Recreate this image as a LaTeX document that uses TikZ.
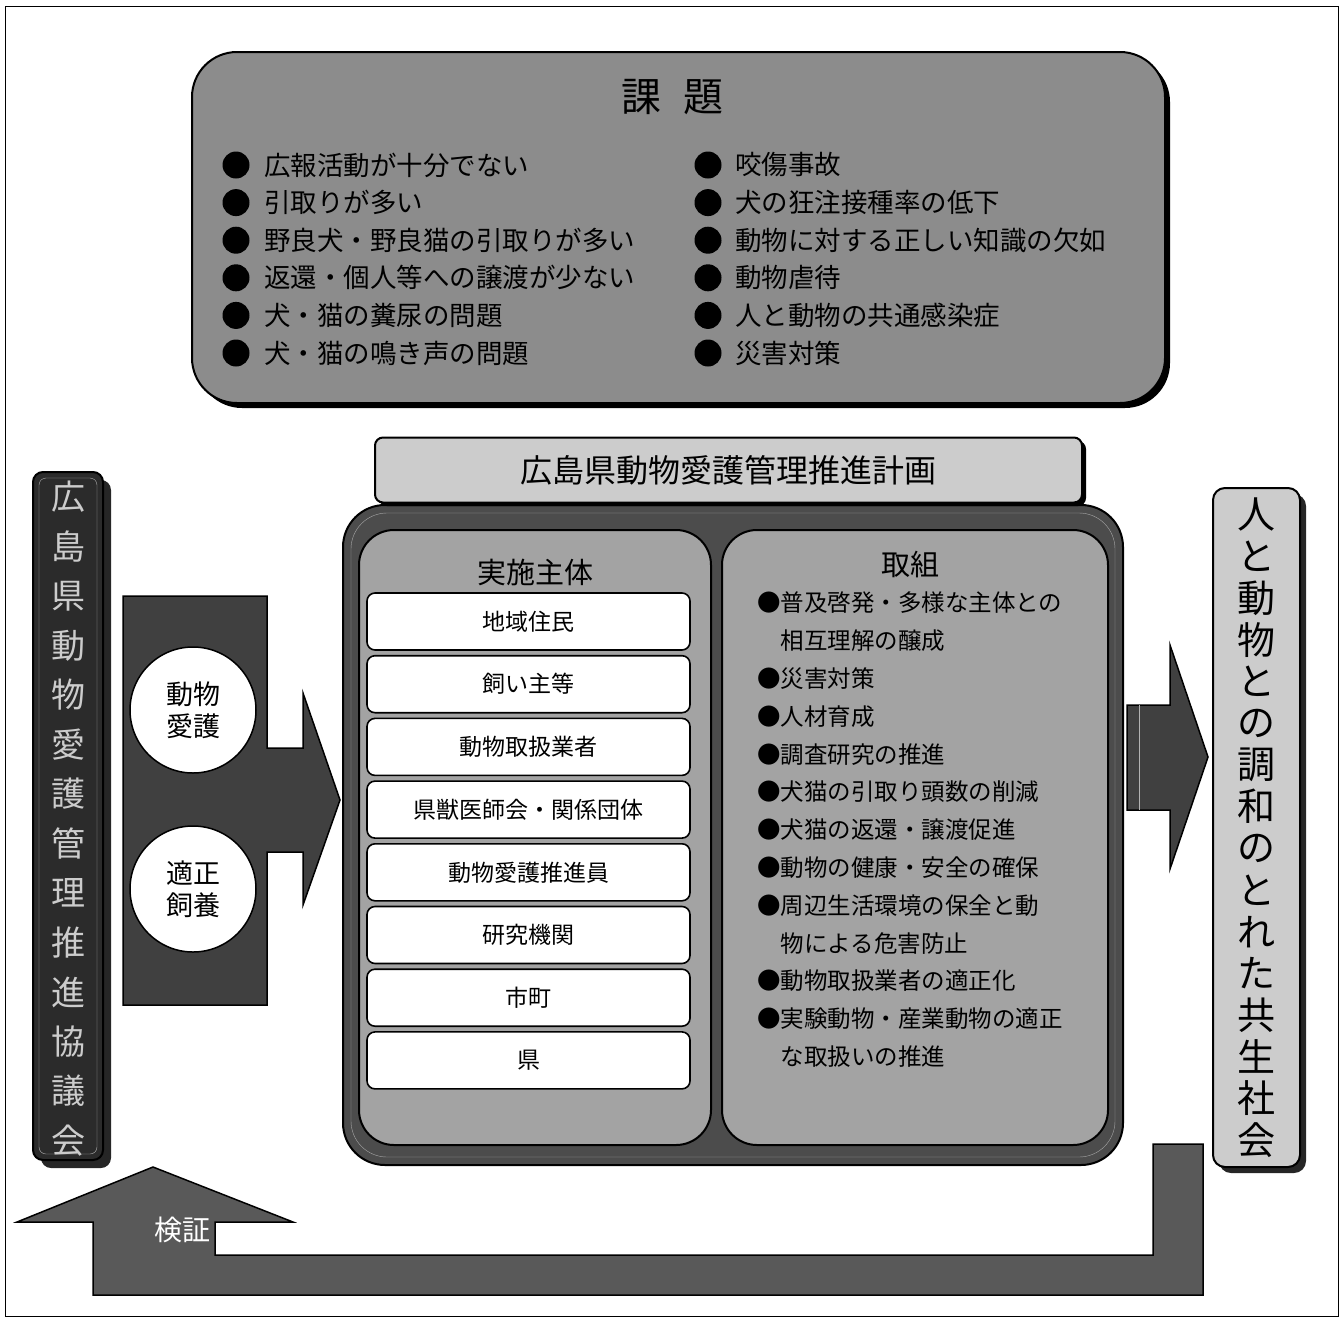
\documentclass[tikz,border=0pt]{standalone}
\usepackage{fontspec}
\setmainfont{Noto Sans CJK JP}
\definecolor{issuegray}{gray}{0.55}
\definecolor{plangray}{gray}{0.8}
\definecolor{framegray}{gray}{0.3}
\definecolor{innergray}{gray}{0.64}
\definecolor{bargray}{gray}{0.17}
\definecolor{goalgray}{gray}{0.8}
\definecolor{arrowgray}{gray}{0.25}
\definecolor{loopgray}{gray}{0.35}

\begin{document}
\begin{tikzpicture}[
	x=1pt, y=-1pt,
	panelbox/.style={draw, line width=2pt, rounded corners=#1},
	panelbox/.default=10,
	issueitem/.style={anchor=west, inner sep=0pt, font=\fontsize{26.5}{30}\selectfont},
	actorbox/.style={draw, line width=1.6pt, fill=white, rounded corners=8, minimum width=323, minimum height=57, font=\fontsize{23}{26}\selectfont},
	measureitem/.style={anchor=west, inner sep=0pt, font=\fontsize{23.5}{26}\selectfont},
	]
	
	\useasboundingbox (0, 0) rectangle (1344, 1320);
	\draw [thin] (5, 6) rectangle (1338, 1316);
	
	\fill [rounded corners=45] (197, 57) rectangle (1170, 408);
	\node (issues) at (678.5, 227.5) [panelbox=45, fill=issuegray, minimum width=973, minimum height=351] {};
	\node (issuetitle) at (672, 97) [font=\fontsize{40}{44}\selectfont] {課\hspace{22pt}題};
	\foreach \txt [count=\i] in {広報活動が十分でない, 引取りが多い, 野良犬・野良猫の引取りが多い, 返還・個人等への譲渡が少ない, 犬・猫の糞尿の問題, 犬・猫の鳴き声の問題} {
		\fill (236, 127.4+37.6*\i) circle (13.5);
		\node (issueL\i) at (264, 127.4+37.6*\i) [issueitem] {\txt};
	}
	\foreach \txt [count=\i] in {咬傷事故, 犬の狂注接種率の低下, 動物に対する正しい知識の欠如, 動物虐待, 人と動物の共通感染症, 災害対策} {
		\fill (708, 127.4+37.6*\i) circle (13.5);
		\node (issueR\i) at (735, 127.4+37.6*\i) [issueitem] {\txt};
	}
	
	\fill [rounded corners=10, black!85] (41, 480) rectangle (111, 1168);
	\node (council) at (68, 816) [panelbox=10, fill=bargray, minimum width=70, minimum height=688] {};
	\draw [gray!60, rounded corners=7] (39, 478) rectangle (97, 1154);
	\foreach \ch [count=\i] in {広,島,県,動,物,愛,護,管,理,推,進,協,議,会}
		\node (council\i) at (68, 447.5+49.5*\i) [font=\fontsize{34}{34}\selectfont, text=gray!40] {\ch};
	
	\draw [line width=1.5pt, fill=arrowgray] (123, 596) -- (267, 596) -- (267, 748) -- (303, 748) -- (303, 693) -- (340, 800) -- (303, 905) -- (303, 852) -- (267, 852) -- (267, 1005) -- (123, 1005) -- cycle;
	\node (welfare) at (193, 710) [circle, draw, line width=1.5pt, fill=white, minimum size=126, inner sep=0pt, align=center, font=\fontsize{27}{32}\selectfont] {動物\\愛護};
	\node (keeping) at (193, 889) [circle, draw, line width=1.5pt, fill=white, minimum size=126, inner sep=0pt, align=center, font=\fontsize{27}{32}\selectfont] {適正\\飼養};
	
	\node (frame) at (733, 835) [panelbox=42, fill=framegray, minimum width=780, minimum height=660] {};
	\draw [gray!70, rounded corners=36] (351, 513) rectangle (1115, 1157);
	\node (actors) at (535, 837.5) [panelbox=35, fill=innergray, minimum width=352, minimum height=615] {};
	\node (measures) at (915, 837.5) [panelbox=35, fill=innergray, minimum width=386, minimum height=615] {};
	\node (actortitle) at (535, 572) [font=\fontsize{29}{32}\selectfont] {実施主体};
	\node (measuretitle) at (910, 565) [font=\fontsize{29}{32}\selectfont] {取組};
	\foreach \txt [count=\i] in {地域住民, 飼い主等, 動物取扱業者, 県獣医師会・関係団体, 動物愛護推進員, 研究機関, 市町, 県}
		\node (actor\i) at (528.5, 558.8+62.7*\i) [actorbox] {\txt};
	\foreach \txt [count=\i] in {●普及啓発・多様な主体との, \phantom{●}相互理解の醸成, ●災害対策, ●人材育成, ●調査研究の推進, ●犬猫の引取り頭数の削減, ●犬猫の返還・譲渡促進, ●動物の健康・安全の確保, ●周辺生活環境の保全と動, \phantom{●}物による危害防止, ●動物取扱業者の適正化, ●実験動物・産業動物の適正, \phantom{●}な取扱いの推進}
		\node (measure\i) at (757, 565.2+37.8*\i) [measureitem] {\txt};
	
	\fill [rounded corners=8] (379, 441) rectangle (1086, 506);
	\node (plan) at (728.5, 470) [panelbox=8, fill=plangray, minimum width=707, minimum height=65, font=\fontsize{32}{34}\selectfont] {広島県動物愛護管理推進計画};
	
	\draw [line width=1.5pt, fill=arrowgray] (1127, 705) -- (1170, 705) -- (1170, 645) -- (1208, 757) -- (1170, 869) -- (1170, 810) -- (1127, 810) -- cycle;
	\draw [gray!60] (1139, 705) -- (1139, 810);
	
	\fill [rounded corners=12, black!85] (1219, 494) rectangle (1306, 1173);
	\node (goal) at (1256.5, 827.5) [panelbox=12, fill=goalgray, minimum width=87, minimum height=679] {};
	\foreach \ch [count=\i] in {人,と,動,物,と,の,調,和,の,と,れ,た,共,生,社,会}
		\node (goal\i) at (1256.5, 473.3+41.67*\i) [font=\fontsize{38}{38}\selectfont] {\ch};
	
	\draw [line width=1.5pt, fill=loopgray] (1203, 1144) -- (1203, 1295) -- (93, 1295) -- (93, 1222) -- (17, 1222) -- (153, 1167) -- (293, 1222) -- (215, 1222) -- (215, 1255) -- (1153, 1255) -- (1153, 1144) -- cycle;
	\node (check) at (182, 1230) [font=\fontsize{28}{30}\selectfont, text=white] {検証};
\end{tikzpicture}
\end{document}
